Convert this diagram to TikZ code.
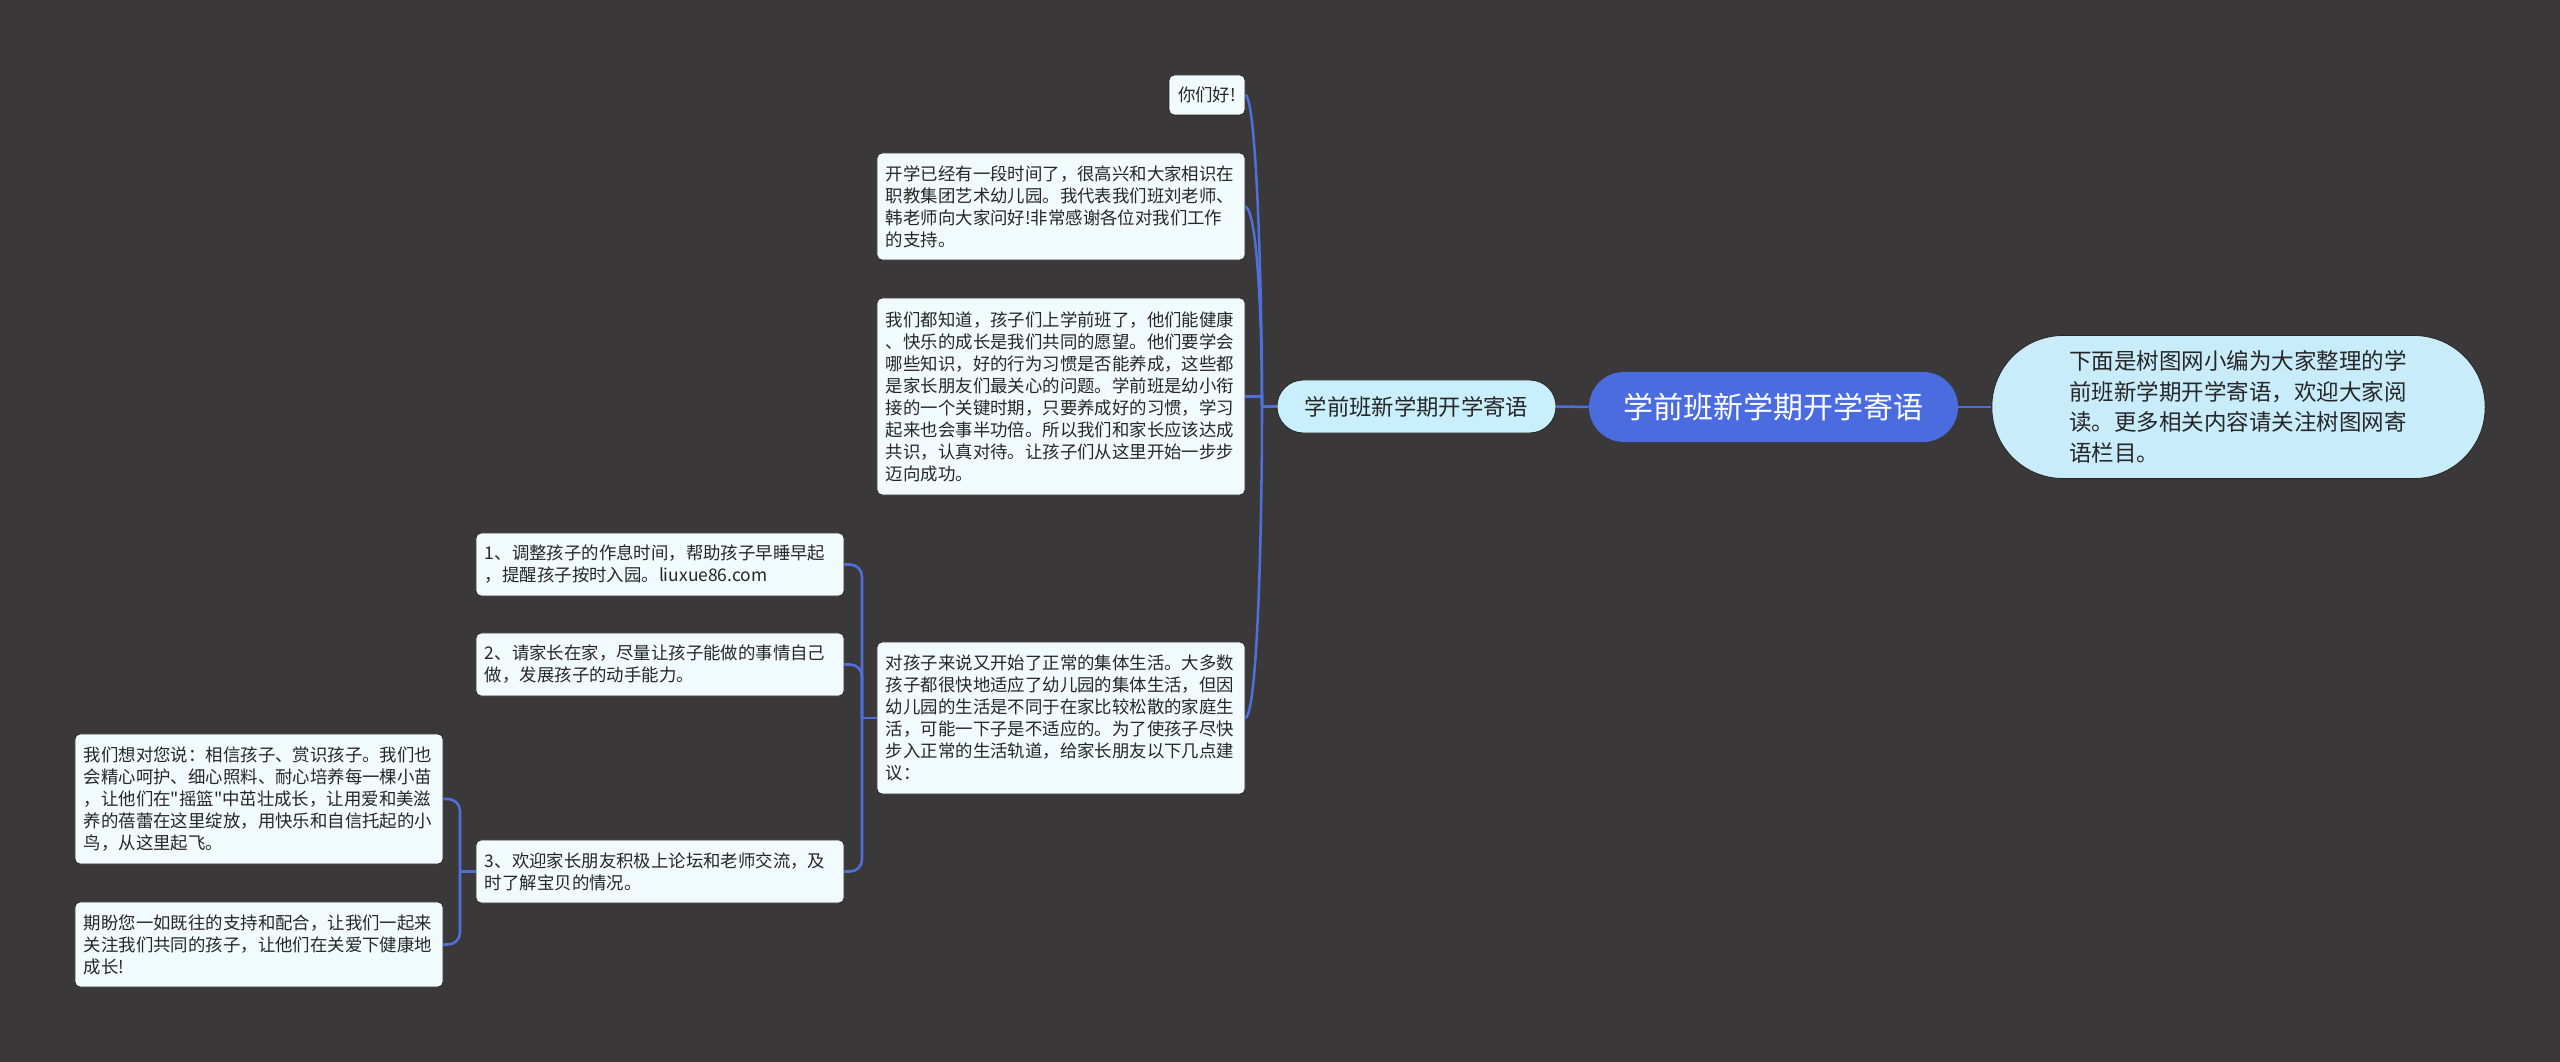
\documentclass[tikz,border=0pt]{standalone}
\usepackage{fontspec}
\newfontfamily\cjk{Noto Sans CJK SC}
\definecolor{bg}{HTML}{3A3839}
\definecolor{linkblue}{HTML}{4F6FDB}
\definecolor{mainfill}{HTML}{4A6CDF}
\definecolor{subfill}{HTML}{C9EEFC}
\definecolor{rightfill}{HTML}{C9ECFB}
\definecolor{leaffill}{HTML}{F1FBFD}
\definecolor{darktext}{HTML}{262626}
\definecolor{edgegray}{HTML}{262626}
\tikzset{
  leafbase/.style={draw=edgegray, line width=0.6pt, fill=leaffill, rounded corners=0.125cm,
    inner ysep=0pt, text=darktext, font=\cjk\fontsize{12.38pt}{15.65pt}\selectfont},
  leaf/.style={leafbase, text width=8.75cm, inner xsep=0.225cm, align=left, minimum width=9.2cm},
  subnode/.style={draw=edgegray, line width=0.6pt, fill=subfill, rounded corners=0.66cm,
    minimum width=6.975cm, minimum height=1.325cm, inner sep=0pt, text=darktext,
    font=\cjk\fontsize{15.9pt}{18pt}\selectfont},
  mainnode/.style={fill=mainfill, rounded corners=0.875cm, minimum width=9.225cm,
    minimum height=1.75cm, inner sep=0pt, text=white, font=\cjk\fontsize{21.3pt}{25pt}\selectfont},
  rightnode/.style={draw=edgegray, line width=0.6pt, fill=rightfill, rounded corners=1.78cm,
    text width=8.45cm, inner xsep=1.94cm, inner ysep=0pt, minimum height=3.575cm, align=left,
    text=darktext, font=\cjk\fontsize{16pt}{21.8pt}\selectfont},
  link/.style={draw=linkblue, line width=1.8pt},
}
\begin{document}
\begin{tikzpicture}[x=0.025cm,y=-0.025cm]
\fill[bg] (0,0) rectangle (2560,1062);
\useasboundingbox (0,0) rectangle (2560,1062);

% central and right
\node[mainnode] (main) at (1773.5,407) {学前班新学期开学寄语};
\node[rightnode] (right) at (2238.5,407) {下面是树图网小编为大家整理的学\\前班新学期开学寄语，欢迎大家阅\\读。更多相关内容请关注树图网寄\\语栏目。};
\node[subnode] (sub) at (1416.5,406.5) {学前班新学期开学寄语};

% first-level leaves
\node[leafbase, minimum width=1.9cm, minimum height=1.0cm, inner xsep=0pt] (hello) at (1207,95) {你们好!};
\node[leaf, minimum height=2.675cm] (kaixue) at (1061,206.5) {开学已经有一段时间了，很高兴和大家相识在\\职教集团艺术幼儿园。我代表我们班刘老师、\\韩老师向大家问好!非常感谢各位对我们工作\\的支持。};
\node[leaf, minimum height=4.925cm] (women) at (1061,396.5) {我们都知道，孩子们上学前班了，他们能健康\\、快乐的成长是我们共同的愿望。他们要学会\\哪些知识，好的行为习惯是否能养成，这些都\\是家长朋友们最关心的问题。学前班是幼小衔\\接的一个关键时期，只要养成好的习惯，学习\\起来也会事半功倍。所以我们和家长应该达成\\共识，认真对待。让孩子们从这里开始一步步\\迈向成功。};
\node[leaf, minimum height=3.8cm] (duihaizi) at (1061,718) {对孩子来说又开始了正常的集体生活。大多数\\孩子都很快地适应了幼儿园的集体生活，但因\\幼儿园的生活是不同于在家比较松散的家庭生\\活，可能一下子是不适应的。为了使孩子尽快\\步入正常的生活轨道，给家长朋友以下几点建\\议：};

% second-level leaves
\node[leaf, minimum height=1.575cm] (l1) at (660,564.5) {1、调整孩子的作息时间，帮助孩子早睡早起\\，提醒孩子按时入园。liuxue86.com};
\node[leaf, minimum height=1.575cm] (l2) at (660,664.5) {2、请家长在家，尽量让孩子能做的事情自己\\做，发展孩子的动手能力。};
\node[leaf, minimum height=1.575cm] (l3) at (660,871.5) {3、欢迎家长朋友积极上论坛和老师交流，及\\时了解宝贝的情况。};

% third-level leaves
\node[leaf, minimum height=3.25cm] (l3a) at (259,799) {我们想对您说：相信孩子、赏识孩子。我们也\\会精心呵护、细心照料、耐心培养每一棵小苗\\，让他们在"摇篮"中茁壮成长，让用爱和美滋\\养的蓓蕾在这里绽放，用快乐和自信托起的小\\鸟，从这里起飞。};
\node[leaf, minimum height=2.125cm] (l3b) at (259,944.5) {期盼您一如既往的支持和配合，让我们一起来\\关注我们共同的孩子，让他们在关爱下健康地\\成长!};

% trunk points
\coordinate (t1) at (1262,406.5);
\coordinate (t2) at (862,718);
\coordinate (t3) at (460,871.5);

% connectors
\draw[link] (main.east) -- (right.west);
\draw[link] (sub.east) -- (main.west);
\draw[link] (sub.west) -- (t1);
\draw[link] (women.east) -| (t1);
\draw[link] (hello.east) .. controls (1257,100) and (1262,300) .. (t1);
\draw[link] (kaixue.east) .. controls (1258,212) and (1262,330) .. (t1);
\draw[link] (duihaizi.east) .. controls (1258,712) and (1262,520) .. (t1);

\draw[link] (duihaizi.west) -- (t2);
\draw[link, rounded corners=0.3cm] (t2) |- (l1.east);
\draw[link, rounded corners=0.3cm] (t2) |- (l2.east);
\draw[link, rounded corners=0.3cm] (t2) |- (l3.east);

\draw[link] (l3.west) -- (t3);
\draw[link, rounded corners=0.3cm] (t3) |- (l3a.east);
\draw[link, rounded corners=0.3cm] (t3) |- (l3b.east);
\end{tikzpicture}
\end{document}
